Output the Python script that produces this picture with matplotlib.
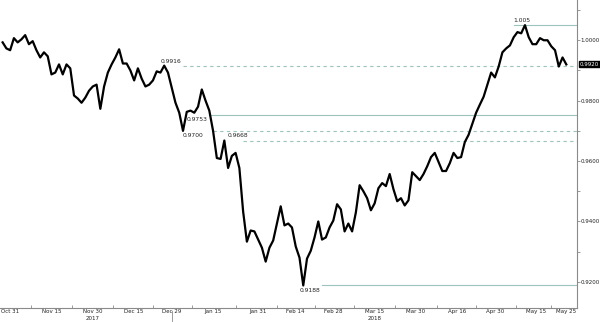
import numpy as np
import pandas as pd
import matplotlib
matplotlib.use('Agg')
import matplotlib.pyplot as plt
import matplotlib.transforms as mtransforms

# daily closes, business days Oct 27 2017 .. May 25 2018
rate = [0.9993, 0.9973, 0.9967, 1.0007, 0.9993, 1.0003, 1.0017, 0.9987, 0.9997, 0.9967,
        0.9943, 0.9960, 0.9947, 0.9887, 0.9893, 0.9920, 0.9887, 0.9920, 0.9907, 0.9817,
        0.9807, 0.9793, 0.9810, 0.9833, 0.9847, 0.9853, 0.9773, 0.9847, 0.9893, 0.9920,
        0.9943, 0.9970, 0.9923, 0.9923, 0.9900, 0.9867, 0.9907, 0.9873, 0.9847, 0.9853,
        0.9867, 0.9897, 0.9893, 0.9916, 0.9893, 0.9843, 0.9793, 0.9760, 0.9700, 0.9763,
        0.9767, 0.9760, 0.9780, 0.9837, 0.9800, 0.9767, 0.9700, 0.9610, 0.9607, 0.9668,
        0.9577, 0.9617, 0.9627, 0.9577, 0.9433, 0.9333, 0.9370, 0.9367, 0.9340, 0.9313,
        0.9267, 0.9313, 0.9337, 0.9393, 0.9450, 0.9387, 0.9393, 0.9380, 0.9317, 0.9280,
        0.9188, 0.9277, 0.9303, 0.9347, 0.9400, 0.9340, 0.9347, 0.9380, 0.9403, 0.9457,
        0.9440, 0.9367, 0.9393, 0.9367, 0.9430, 0.9520, 0.9500, 0.9477, 0.9437, 0.9460,
        0.9510, 0.9527, 0.9517, 0.9557, 0.9507, 0.9467, 0.9477, 0.9453, 0.9470, 0.9563,
        0.9550, 0.9537, 0.9557, 0.9583, 0.9613, 0.9627, 0.9597, 0.9567, 0.9567, 0.9593,
        0.9627, 0.9610, 0.9613, 0.9663, 0.9687, 0.9723, 0.9760, 0.9787, 0.9813, 0.9853,
        0.9893, 0.9877, 0.9913, 0.9960, 0.9973, 0.9983, 1.0010, 1.0027, 1.0023, 1.0050,
        1.0010, 0.9987, 0.9987, 1.0007, 1.0000, 1.0000, 0.9980, 0.9967, 0.9913, 0.9943,
        0.9920]

dates = pd.bdate_range('2017-10-27', periods=len(rate))

tick_dates = ['2017-10-31', '2017-11-15', '2017-11-30', '2017-12-15', '2017-12-29',
              '2018-01-15', '2018-01-31', '2018-02-14', '2018-02-28', '2018-03-15',
              '2018-03-30', '2018-04-16', '2018-04-30', '2018-05-15', '2018-05-25']
year_labels = {'2017-11-30': '2017', '2018-03-15': '2018'}

# marked levels: value, text, where the level line starts, where the text sits
level_vals = [1.005, 0.9916, 0.9753, 0.9700, 0.9668, 0.9188]
level_text = ['1.005', '0.9916', '0.9753', '0.9700', '0.9668', '0.9188']
level_start = ['2018-05-07', '2018-01-03', '2018-01-12', '2018-01-15', '2018-01-25', '2018-02-23']
level_label = ['2018-05-07', '2017-12-26', '2018-01-04', '2018-01-03', '2018-01-19', '2018-02-15']
level_dashed = [False, True, False, True, True, False]
level_above = [True, True, False, False, True, False]

last_val = rate[-1]

pos = np.arange(len(dates))
idx = {d.strftime('%Y-%m-%d'): i for i, d in enumerate(dates)}

fs = 4.0
txt_col = '#222222'
fig = plt.figure(figsize=(6, 3.22), dpi=100)
ax = fig.add_axes([0, 0.045, 0.962, 0.955])

line_col = '#9cc4bf'
for v, t, s, l, dsh, up in zip(level_vals, level_text, level_start, level_label,
                               level_dashed, level_above):
    ax.plot([idx[s], len(dates) + 5], [v, v], color=line_col,
            linestyle=(0, (3, 3)) if dsh else '-', linewidth=0.8, zorder=1)
    ax.annotate(t, (idx[l], v), xytext=(0, 1.5 if up else -1.5), textcoords='offset points',
                ha='left', va='bottom' if up else 'top', fontsize=fs + 0.3, color=txt_col)

ax.plot(pos, rate, color='black', linewidth=1.6, zorder=3)

ax.set_xlim(-0.7, 152.9)
ax.set_ylim(0.9115, 1.01333)

for sp in ['top', 'left']:
    ax.spines[sp].set_visible(False)
for sp in ['right', 'bottom']:
    ax.spines[sp].set_color('#8a8a8a')
    ax.spines[sp].set_linewidth(0.8)

ax.yaxis.tick_right()
ax.set_yticks([0.92, 0.94, 0.96, 0.98, 1.00])
ax.set_yticklabels(['%.4f' % v for v in [0.92, 0.94, 0.96, 0.98, 1.00]])
ax.set_yticks([0.93, 0.95, 0.97, 0.99, 1.01], minor=True)
ax.tick_params(axis='y', which='both', length=2, width=0.6, color='#8a8a8a',
               labelsize=fs, pad=0.5, labelcolor=txt_col)

xt = [idx[d] for d in tick_dates]
ax.set_xticks(xt)
ax.set_xticklabels([pd.Timestamp(d).strftime('%b %d').replace(' 0', ' ') for d in tick_dates])
ax.set_xticks([(a + b) / 2 for a, b in zip(xt[:-1], xt[1:])], minor=True)
ax.tick_params(axis='x', which='major', length=0, labelsize=fs, pad=1.0, labelcolor=txt_col)
ax.tick_params(axis='x', which='minor', length=2, width=0.6, color='#8a8a8a', direction='in')

trans = mtransforms.blended_transform_factory(ax.transData, ax.transAxes)
for d, yl in year_labels.items():
    ax.text(idx[d], -0.027, yl, transform=trans, ha='center', va='top',
            fontsize=fs, color=txt_col, clip_on=False)
ax.plot([idx['2017-12-29'], idx['2017-12-29']], [-0.01, -0.045], transform=trans,
        color='#8a8a8a', linewidth=0.6, clip_on=False)

# last value tag on the right axis
ax.annotate('%.4f' % last_val, (1, last_val), xycoords=('axes fraction', 'data'),
            xytext=(2, 0), textcoords='offset points', ha='left', va='center',
            fontsize=fs, color='white',
            bbox=dict(boxstyle='square,pad=0.1', fc='black', ec='black'))

fig.savefig('out.png', dpi=100)
